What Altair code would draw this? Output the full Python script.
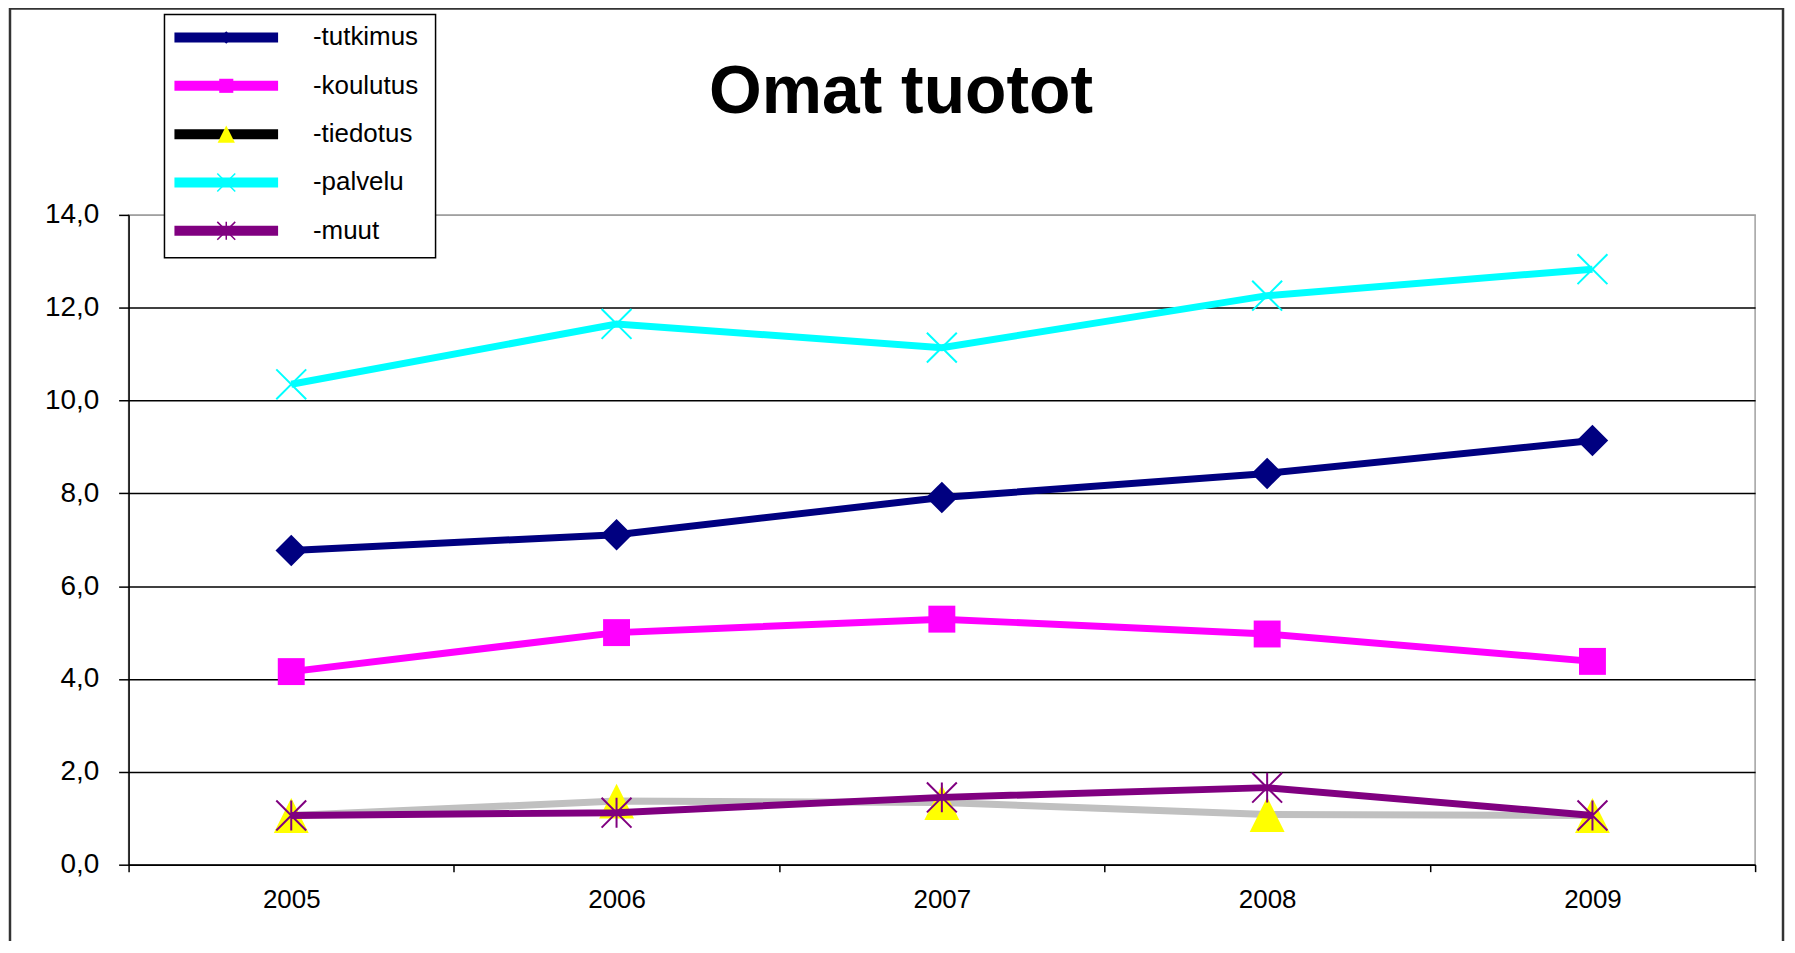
import altair as alt
import pandas as pd

# ---- data ----
years = ["2005", "2006", "2007", "2008", "2009"]
tutkimus = [6.77, 7.11, 7.91, 8.43, 9.14]
koulutus = [4.16, 5.00, 5.29, 4.97, 4.38]
tiedotus = [1.06, 1.37, 1.34, 1.08, 1.06]
palvelu = [10.35, 11.65, 11.14, 12.26, 12.83]
muut = [1.06, 1.12, 1.45, 1.66, 1.06]
legend_names = ["-tutkimus", "-koulutus", "-tiedotus", "-palvelu", "-muut"]
y_ticks = [0, 2, 4, 6, 8, 10, 12, 14]
title_text = "Omat tuotot"

FONT = "Liberation Sans"
W, H = 1632, 652
X_PATH = "M-1,-1L1,1M-1,1L1,-1"
STAR_PATH = "M-1,-1L1,1M-1,1L1,-1M0,-1L0,1"
TRI_PATH = "M0,-1L1,1L-1,1Z"

x_enc = alt.X(
    "year:O",
    title=None,
    bandPosition=0.5,
    scale=alt.Scale(type="band", domain=years, paddingInner=0, paddingOuter=0),
    axis=alt.Axis(
        labelAngle=0, labelFont=FONT, labelFontSize=26, labelColor="black",
        labelPadding=15, tickBand="extent", tickSize=7, tickColor="black",
        tickWidth=1.5, domainColor="black", domainWidth=1.5, grid=False,
    ),
)
y_enc = alt.Y(
    "value:Q",
    title=None,
    scale=alt.Scale(domain=[0, 14], nice=False, zero=True),
    axis=alt.Axis(
        values=y_ticks, labelFont=FONT, labelFontSize=28, labelColor="black",
        labelPadding=20, tickSize=10, tickColor="black", tickWidth=1.5,
        domainColor="black", domainWidth=1.5, grid=True,
        gridColor=alt.condition("datum.value == 14", alt.value("#a0a0a0"), alt.value("black")),
        gridWidth=1.5, gridOpacity=1,
        labelExpr="replace(format(datum.value, '.1f'), '.', ',')",
    ),
)

series = [
    # values, line colour, marker spec
    (tutkimus, "#000080", dict(shape="diamond", size=1000, filled=True, color="#000080")),
    (koulutus, "#FF00FF", dict(shape="square", size=730, filled=True, color="#FF00FF")),
    (tiedotus, "#C0C0C0", dict(shape=TRI_PATH, size=1225, filled=True, color="#FFFF00")),
    (palvelu, "#00FFFF", dict(shape=X_PATH, size=900, filled=False, color="#00FFFF", strokeWidth=2)),
    (muut, "#800080", dict(shape=STAR_PATH, size=900, filled=False, color="#800080", strokeWidth=2)),
]

layers = []
for vals, lc, mk in series:
    df = pd.DataFrame({"year": years, "value": vals})
    layers.append(alt.Chart(df).mark_line(color=lc, strokeWidth=7).encode(x=x_enc, y=y_enc))
    layers.append(alt.Chart(df).mark_point(opacity=1, **mk).encode(x=x_enc, y=y_enc))

# ---- outer frame ----
one = pd.DataFrame({"k": [0]})
layers.append(
    alt.Chart(one).mark_rect(filled=False, stroke="#333333", strokeWidth=2.5).encode(
        x=alt.value(-119), x2=alt.value(1660), y=alt.value(-207), y2=alt.value(800)
    )
)

# ---- title ----
layers.append(
    alt.Chart(one).mark_text(
        text=title_text, font=FONT, fontSize=68, fontWeight="bold", color="black",
        align="center", baseline="alphabetic",
    ).encode(x=alt.value(775), y=alt.value(-102))
)

# ---- custom legend (matching the original's look) ----
layers.append(
    alt.Chart(one).mark_rect(fill="white", stroke="black", strokeWidth=1.5).encode(
        x=alt.value(36), x2=alt.value(308), y=alt.value(-201), y2=alt.value(43)
    )
)
legend_line_colors = ["#000080", "#FF00FF", "#000000", "#00FFFF", "#800080"]
legend_markers = [
    dict(shape="diamond", size=160, filled=True, color="#000080"),
    dict(shape="square", size=200, filled=True, color="#FF00FF"),
    dict(shape=TRI_PATH, size=300, filled=True, color="#FFFF00"),
    dict(shape=X_PATH, size=324, filled=False, color="#00FFFF", strokeWidth=1.5),
    dict(shape=STAR_PATH, size=324, filled=False, color="#800080", strokeWidth=1.5),
]
for i, name in enumerate(legend_names):
    py = -178 + i * 48.5
    ldf = pd.DataFrame({"name": [name]})
    layers.append(
        alt.Chart(ldf).mark_rule(color=legend_line_colors[i], strokeWidth=10).encode(
            x=alt.value(46), x2=alt.value(150), y=alt.value(py)
        )
    )
    layers.append(
        alt.Chart(ldf).mark_point(opacity=1, **legend_markers[i]).encode(
            x=alt.value(98), y=alt.value(py)
        )
    )
    layers.append(
        alt.Chart(ldf).mark_text(
            font=FONT, fontSize=26, color="black", align="left", baseline="middle"
        ).encode(x=alt.value(185), y=alt.value(py), text="name:N")
    )

chart = (
    alt.layer(*layers)
    .properties(
        width=W,
        height=H,
        autosize=alt.AutoSizeParams(type="none"),
        padding={"left": 121, "top": 206, "right": 32, "bottom": 75},
        background="white",
    )
    .configure_view(stroke="#a0a0a0", strokeWidth=1.5)
)

chart.save("out.html", embed_options={"renderer": "svg", "actions": False})
